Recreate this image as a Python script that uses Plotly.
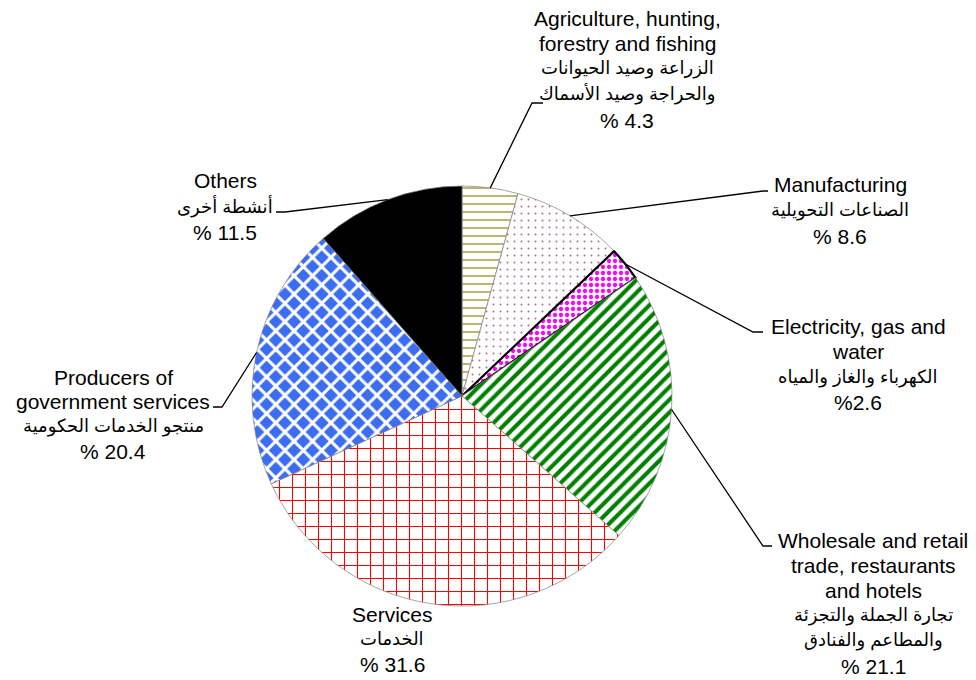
import math
import plotly.graph_objects as go

# ---------------- data ----------------
categories_en = [
    ["Agriculture, hunting,", "forestry and fishing"],
    ["Manufacturing"],
    ["Electricity, gas and", "water"],
    ["Wholesale and retail", "trade, restaurants", "and hotels"],
    ["Services"],
    ["Producers of", "government services"],
    ["Others"],
]
categories_ar = [
    ["الزراعة وصيد الحيوانات", "والحراجة وصيد الأسماك"],
    ["الصناعات التحويلية"],
    ["الكهرباء والغاز والمياه"],
    ["تجارة الجملة والتجزئة", "والمطاعم والفنادق"],
    ["الخدمات"],
    ["منتجو الخدمات الحكومية"],
    ["أنشطة أخرى"],
]
values = [4.3, 8.6, 2.6, 21.1, 31.6, 20.4, 11.5]
pct_format = ["% {}", "% {}", "%{}", "% {}", "% {}", "% {}", "% {}"]

# ---------------- styles ----------------
W, H = 976, 680
CX, CY, R = 462, 396, 210

pat_shape = ["-", ".", ".", "/", "+", "x", ""]
pat_fg = ["#b4ac60", "#b06a8c", "#ff00ff", "#008000", "#ff0000", "#ffffff", "#000000"]
pat_bg = ["white", "white", "white", "white", "white", "#3c6cf0", "white"]
slice_col = ["#b4ac60", "#b06a8c", "#ff00ff", "#008000", "#ff0000", "#3c6cf0", "#000000"]
pat_size = [8, 7, 6, 9, 13, 13, 8]
pat_sol = [0.22, 0.06, 0.4, 0.45, 0.16, 0.42, 0.5]
line_w = [0.7, 0.7, 2.2, 0.7, 0.7, 0.7, 0.7]
line_c = ["#808080", "#808080", "#000000", "#808080", "#808080", "#808080", "#808080"]

# label layout: centre x, y of first line, line step, elbow path points
label_cx = [627, 840, 858, 873, 392, 113, 225]
label_y0 = [18, 185, 326, 540, 614, 377, 181]
label_step = [25.5, 25.5, 25.5, 25.2, 25, 24.7, 25.5]
elbows = [
    [(532, 103), (543, 103)],
    [(763, 191), (768, 191)],
    [(753, 332), (763, 332)],
    [(763, 546), (772, 546)],
    None,
    [(222, 407), (213, 407)],
    [(285, 212), (276, 212)],
]


def px(x):
    return x / W


def py(y):
    return 1 - y / H


fig = go.Figure()
fig.add_trace(go.Pie(
    values=values,
    labels=[" ".join(e) for e in categories_en],
    sort=False,
    direction="clockwise",
    rotation=0,
    textinfo="none",
    hoverinfo="skip",
    showlegend=False,
    domain=dict(x=[px(CX - R), px(CX + R)], y=[py(CY + R), py(CY - R)]),
    marker=dict(
        colors=slice_col,
        line=dict(color=line_c, width=line_w),
        pattern=dict(shape=pat_shape, fgcolor=pat_fg, bgcolor=pat_bg,
                     size=pat_size, solidity=pat_sol, fillmode="replace"),
    ),
))

annotations = []
shapes = []
total = sum(values)
cum = 0.0
for i, v in enumerate(values):
    mid = (cum + v / 2) / total * 2 * math.pi
    cum += v
    ax = CX + R * math.sin(mid)
    ay = CY - R * math.cos(mid)
    if elbows[i]:
        pts = [(ax, ay)] + elbows[i]
        path = "M " + " L ".join(f"{px(x):.5f},{py(y):.5f}" for x, y in pts)
        shapes.append(dict(type="path", xref="paper", yref="paper", path=path,
                           line=dict(color="black", width=1.3)))
    lines = [(t, 21) for t in categories_en[i]] + [(t, 18) for t in categories_ar[i]]
    lines.append((pct_format[i].format(v), 21))
    for k, (t, fs) in enumerate(lines):
        y = label_y0[i] + k * label_step[i]
        annotations.append(dict(
            x=px(label_cx[i]), y=py(y), xref="paper", yref="paper",
            xanchor="center", yanchor="middle", showarrow=False, text=t,
            font=dict(family="Liberation Sans, Arial, DejaVu Sans", size=fs, color="black"),
        ))

fig.update_layout(
    width=W, height=H,
    margin=dict(l=0, r=0, t=0, b=0),
    paper_bgcolor="white", plot_bgcolor="white",
    annotations=annotations, shapes=shapes,
)
fig.write_html("out.html", config={"displayModeBar": False},
               post_script="document.body.style.margin='0';document.body.style.padding='0';")
